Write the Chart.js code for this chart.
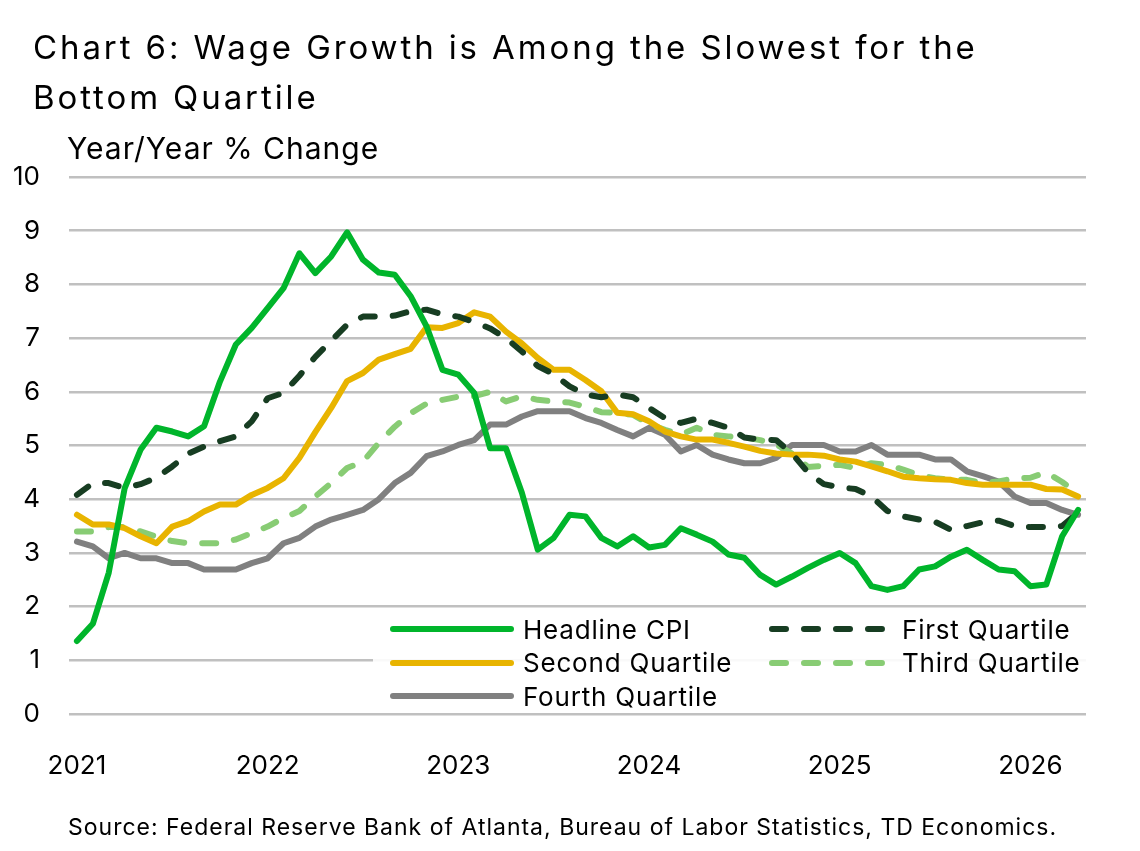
<!DOCTYPE html>
<html>
<head>
<meta charset="utf-8">
<script src="https://cdn.jsdelivr.net/npm/chart.js@4.4.1/dist/chart.umd.min.js"></script>
<style>
  body { margin: 0; background: #fff; }
  #wrap { position: relative; width: 1140px; height: 851px; font-family: Inter, "Noto Sans", sans-serif; color: #000; }
  #chart { position: absolute; left: 0; top: 0; }
  .txt { position: absolute; white-space: nowrap; }
  #title { left: 33px; top: 22px; font-size: 33px; line-height: 50px; letter-spacing: 2.9px; }
  #ytitle { left: 67px; top: 130px; font-size: 30px; letter-spacing: 1px; }
  #source { left: 68px; top: 813px; font-size: 23px; letter-spacing: 1px; }
  #legend { position: absolute; left: 373px; top: 610px; width: 713px; height: 102px; background: rgba(255,255,255,0.9); }
  .item { position: absolute; height: 30px; display: flex; align-items: center; font-size: 26px; letter-spacing: 0.8px; }
  .item svg { margin-right: 9px; }
</style>
</head>
<body>
<div id="wrap">
  <canvas id="chart" width="1140" height="851"></canvas>
  <div class="txt" id="title">Chart 6: Wage Growth is Among the Slowest for the<br>Bottom Quartile</div>
  <div class="txt" id="ytitle">Year/Year % Change</div>
  <div class="txt" id="source">Source: Federal Reserve Bank of Atlanta, Bureau of Labor Statistics, TD Economics.</div>
  <div id="legend"></div>
</div>
<script>
'use strict';

// Monthly observations, Jan 2021 to Apr 2026
const years = ['2021', '2022', '2023', '2024', '2025', '2026'];
const monthsInLastYear = 4;

const headlineCpi = [
  1.36, 1.68, 2.63, 4.2, 4.92, 5.33, 5.26, 5.17, 5.36, 6.19, 6.88, 7.19,
  7.56, 7.93, 8.58, 8.21, 8.52, 8.97, 8.46, 8.22, 8.18, 7.78, 7.22, 6.41,
  6.32, 5.98, 4.95, 4.95, 4.12, 3.06, 3.28, 3.71, 3.68, 3.28, 3.12, 3.31,
  3.10, 3.15, 3.46, 3.34, 3.21, 2.97, 2.91, 2.59, 2.41, 2.56, 2.72, 2.87,
  3.0, 2.81, 2.38, 2.31, 2.38, 2.69, 2.75, 2.93, 3.06, 2.87, 2.69, 2.66,
  2.38, 2.41, 3.31, 3.80
];
const firstQuartile = [
  4.08, 4.30, 4.30, 4.21, 4.28, 4.40, 4.61, 4.85, 4.98, 5.08, 5.17, 5.45,
  5.88, 5.98, 6.3, 6.65, 6.95, 7.25, 7.40, 7.40, 7.42, 7.50, 7.53, 7.44,
  7.40, 7.30, 7.18, 7.0, 6.75, 6.48, 6.33, 6.1, 5.95, 5.90, 5.95, 5.9,
  5.7, 5.51, 5.42, 5.5, 5.42, 5.33, 5.15, 5.11, 5.10, 4.85, 4.5, 4.28,
  4.22, 4.19, 4.05, 3.78, 3.68, 3.62, 3.58, 3.43, 3.50, 3.57, 3.6, 3.5,
  3.48, 3.48, 3.5, 3.75
];
const secondQuartile = [
  3.71, 3.53, 3.53, 3.46, 3.31, 3.18, 3.49, 3.59, 3.77, 3.90, 3.90, 4.08,
  4.21, 4.39, 4.77, 5.25, 5.70, 6.20, 6.35, 6.60, 6.70, 6.80, 7.20, 7.19,
  7.28, 7.48, 7.40, 7.12, 6.90, 6.63, 6.41, 6.41, 6.22, 6.01, 5.61, 5.58,
  5.45, 5.26, 5.17, 5.11, 5.11, 5.05, 4.98, 4.90, 4.85, 4.83, 4.83, 4.81,
  4.74, 4.70, 4.61, 4.52, 4.42, 4.39, 4.37, 4.36, 4.30, 4.27, 4.27, 4.27,
  4.27, 4.19, 4.18, 4.05
];
const thirdQuartile = [
  3.40, 3.40, 3.48, 3.48, 3.40, 3.30, 3.22, 3.18, 3.18, 3.18, 3.25, 3.37,
  3.49, 3.65, 3.78, 4.05, 4.30, 4.58, 4.70, 5.05, 5.35, 5.60, 5.78, 5.85,
  5.91, 5.92, 6.0, 5.82, 5.92, 5.85, 5.82, 5.80, 5.72, 5.62, 5.61, 5.57,
  5.40, 5.29, 5.20, 5.33, 5.20, 5.17, 5.15, 5.10, 5.02, 4.85, 4.60, 4.62,
  4.64, 4.58, 4.67, 4.64, 4.55, 4.45, 4.39, 4.36, 4.36, 4.30, 4.33, 4.39,
  4.40, 4.50, 4.32, 4.11
];
const fourthQuartile = [
  3.21, 3.12, 2.90, 3.0, 2.90, 2.90, 2.81, 2.81, 2.69, 2.69, 2.69, 2.81,
  2.90, 3.18, 3.28, 3.49, 3.62, 3.71, 3.80, 4.0, 4.30, 4.49, 4.80, 4.89,
  5.01, 5.10, 5.39, 5.39, 5.54, 5.64, 5.64, 5.64, 5.51, 5.42, 5.29, 5.17,
  5.33, 5.20, 4.89, 5.01, 4.83, 4.74, 4.67, 4.67, 4.77, 5.01, 5.01, 5.01,
  4.89, 4.89, 5.01, 4.83, 4.83, 4.83, 4.74, 4.74, 4.52, 4.43, 4.33, 4.05,
  3.93, 3.93, 3.80, 3.71
];

// month labels like 2021-01
const labels = [];
years.forEach((y, i) => {
  const n = i === years.length - 1 ? monthsInLastYear : 12;
  for (let m = 1; m <= n; m++) labels.push(y + '-' + String(m).padStart(2, '0'));
});

const dash = [14, 18];
const datasets = [
  { label: 'Headline CPI', data: headlineCpi, borderColor: '#00b52b' },
  { label: 'First Quartile', data: firstQuartile, borderColor: '#173d22', borderDash: dash },
  { label: 'Second Quartile', data: secondQuartile, borderColor: '#e8b400' },
  { label: 'Third Quartile', data: thirdQuartile, borderColor: '#88cc74', borderDash: dash },
  { label: 'Fourth Quartile', data: fourthQuartile, borderColor: '#808080' },
].map(d => Object.assign({
  borderWidth: 6,
  borderCapStyle: 'round',
  borderJoinStyle: 'round',
  pointRadius: 0,
  tension: 0,
  fill: false,
}, d));

const font = { family: 'Inter, "Noto Sans", sans-serif', size: 26 };

const chart = new Chart(document.getElementById('chart'), {
  type: 'line',
  data: { labels: labels, datasets: datasets },
  options: {
    responsive: false,
    animation: false,
    layout: { padding: { left: 0, top: 177, right: 54, bottom: 57 } },
    plugins: { legend: { display: false }, tooltip: { enabled: false } },
    scales: {
      x: {
        type: 'category',
        offset: true,
        grid: { display: false },
        border: { display: false },
        ticks: {
          autoSkip: false,
          maxRotation: 0,
          padding: 29,
          color: '#000',
          font: font,
          callback: function (value) {
            const l = this.getLabelForValue(value);
            return l.endsWith('-01') ? l.slice(0, 4) : null;
          },
        },
        afterFit: s => { s.height = 80; },
      },
      y: {
        min: 0,
        max: 10,
        grid: { color: '#c0c0c0', lineWidth: 2.5, drawTicks: false },
        border: { display: false },
        ticks: { stepSize: 1, padding: 29, color: '#000', font: font },
        afterFit: s => { s.width = 69; },
      },
    },
  },
});

// legend inside the plot, two columns
const legendElem = document.getElementById('legend');
chart.data.datasets.forEach((ds, i) => {
  const item = document.createElement('div');
  item.className = 'item';
  item.style.left = (i % 2 === 0 ? 17 : 396) + 'px';
  item.style.top = (4 + Math.floor(i / 2) * 33.5) + 'px';
  const dashAttr = ds.borderDash ? ' stroke-dasharray="' + ds.borderDash.join(' ') + '"' : '';
  item.innerHTML =
    '<svg width="124" height="12"><line x1="3" y1="6" x2="121" y2="6" stroke="' + ds.borderColor +
    '" stroke-width="6" stroke-linecap="round"' + dashAttr + '/></svg><span>' + ds.label + '</span>';
  legendElem.appendChild(item);
});
</script>
</body>
</html>
